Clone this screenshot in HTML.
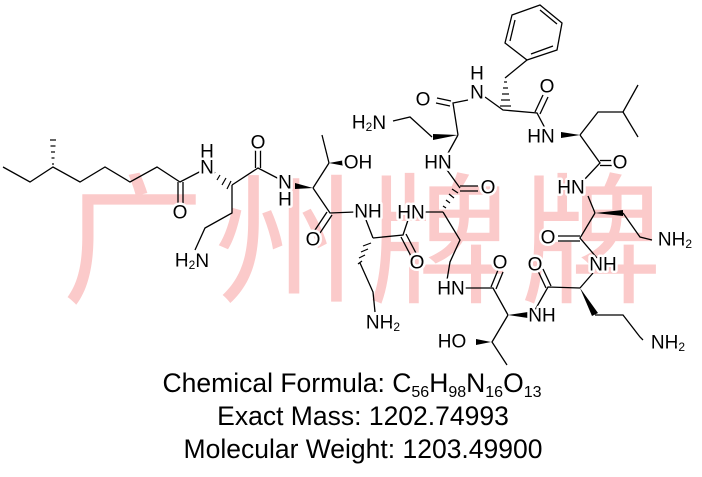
<!DOCTYPE html>
<html><head><meta charset="utf-8"><style>
html,body{margin:0;padding:0;background:#fff;width:702px;height:477px;overflow:hidden}
svg{display:block}
.l{stroke:#000;stroke-width:1.3;fill:none}
.t{font-family:"Liberation Sans",sans-serif;font-size:19px;fill:#000;text-anchor:middle;dominant-baseline:central;stroke:#fff;stroke-width:5px;paint-order:stroke;stroke-linejoin:round}
.s{font-size:12px}
.w{font-family:"Liberation Sans","Noto Sans CJK SC",sans-serif;font-size:142px;fill:#fbcaca}
.f{font-family:"Liberation Sans",sans-serif;font-size:26.5px;fill:#000;text-anchor:middle}
</style></head><body>
<svg width="702" height="477" viewBox="0 0 702 477" xmlns="http://www.w3.org/2000/svg">
<text class="w" x="62" y="292" textLength="600" lengthAdjust="spacing">广州牌牌</text>
<g class="l">
<polyline points="3,167 30,182 53,167 80,182 105,167 130,182 157,167 180,182 207,168"/>
<line x1="178" y1="182" x2="178" y2="204"/><line x1="183" y1="182" x2="183" y2="204"/>
<polyline points="232,185 232,213 205,228 195,250"/>
<polyline points="232,185 258,168 285,182"/>
<line x1="255.5" y1="168" x2="255.5" y2="150"/><line x1="260.5" y1="168" x2="260.5" y2="150"/>
<polyline points="322,135 329,163"/>
<line x1="313" y1="188" x2="329" y2="163"/>
<polyline points="313,188 330,213 355,212"/>
<line x1="327" y1="212" x2="313" y2="233"/><line x1="332" y1="215" x2="318" y2="236"/>
<line x1="366" y1="220" x2="373" y2="238"/>
<polyline points="360,263 373,292 375,312"/>
<polyline points="373,238 403,235 408,220"/>
<line x1="401" y1="237" x2="412" y2="258"/><line x1="406" y1="234" x2="417" y2="255"/>
<line x1="420" y1="212" x2="443" y2="212"/>
<polyline points="443,212 460,240 450,262 447,280"/>
<polyline points="460,188 447,170"/>
<line x1="460" y1="186" x2="478" y2="186"/><line x1="460" y1="191" x2="478" y2="191"/>
<polyline points="456,288 493,288 508,315"/>
<line x1="491" y1="287" x2="498" y2="270"/><line x1="496" y1="289" x2="503" y2="272"/>
<polyline points="508,315 492,342 507,365"/>
<polyline points="535,310 548,287 580,288"/>
<line x1="546" y1="288" x2="538" y2="271"/><line x1="551" y1="286" x2="543" y2="269"/>
<polyline points="595,315 623,315 640,337 643,340"/>
<line x1="580" y1="288" x2="593" y2="273"/>
<polyline points="597,258 580,238 595,213"/>
<line x1="580" y1="236" x2="558" y2="236"/><line x1="580" y1="241" x2="558" y2="241"/>
<polyline points="623,213 640,237 652,240"/>
<polyline points="595,213 588,196"/>
<polyline points="584,180 600,163 580,135"/>
<line x1="600" y1="160.5" x2="612" y2="160.5"/><line x1="600" y1="165.5" x2="612" y2="165.5"/>
<polyline points="580,135 598,112 623,112 638,85"/>
<line x1="623" y1="112" x2="638" y2="137"/>
<polyline points="546,130 537,113 503,110 485,97"/>
<line x1="535" y1="112" x2="543" y2="95"/><line x1="540" y1="114" x2="548" y2="97"/>
<polyline points="505,78 527,60"/>
<polygon points="527,60 557,50 562,23 540,5 512,15 505,43"/>
<line x1="531" y1="54" x2="553" y2="46"/><line x1="557" y1="24" x2="540" y2="10"/><line x1="515" y1="20" x2="510" y2="41"/>
<polyline points="468,100 453,103 458,135"/>
<line x1="451" y1="101" x2="437" y2="98"/><line x1="450" y1="106" x2="436" y2="103"/>
<polyline points="432,137 410,117 393,121"/>
<line x1="458" y1="135" x2="447" y2="155"/>
</g>
<g fill="#000">
<polygon points="313,188 295,183 295,189"/>
<polygon points="329,163 345,160 345,166"/>
<polygon points="508,315 528,312 528,318"/>
<polygon points="461,342 476,339 476,345" transform="rotate(180 476 342)"/>
<polygon points="580,288 592,316 598,313"/>
<polygon points="595,213 623,210 623,216"/>
<polygon points="580,135 561,132 561,138"/>
<polygon points="458,135 433,134 433,140"/>
</g>
<g stroke="#000" stroke-width="1.2">
<line x1="50" y1="140" x2="56" y2="140"/><line x1="50.5" y1="146" x2="55.5" y2="146"/><line x1="51" y1="152" x2="55" y2="152"/><line x1="51.5" y1="158" x2="54.5" y2="158"/><line x1="52" y1="164" x2="54" y2="164"/>
<line x1="215" y1="172" x2="213" y2="175"/><line x1="220" y1="175" x2="217" y2="180"/><line x1="226" y1="178" x2="222" y2="185"/><line x1="231" y1="181" x2="227" y2="189"/>
<line x1="362" y1="261" x2="358" y2="264"/><line x1="365" y1="255" x2="359" y2="258"/><line x1="368" y1="249" x2="361" y2="252"/><line x1="371" y1="243" x2="363" y2="246"/>
<line x1="446" y1="208" x2="443" y2="206"/><line x1="450" y1="203" x2="446" y2="200"/><line x1="454" y1="198" x2="449" y2="194"/><line x1="458" y1="193" x2="452" y2="189"/>
<line x1="504" y1="82" x2="507" y2="82"/><line x1="503" y1="88" x2="508" y2="88"/><line x1="502" y1="94" x2="509" y2="94"/><line x1="501" y1="100" x2="510" y2="100"/><line x1="500" y1="106" x2="511" y2="106"/>
</g>
<text class="t" x="180" y="213">O</text>
<text class="t" x="207" y="168">N</text><text class="t" x="207" y="152">H</text>
<text class="t" x="192" y="261">H<tspan class="s" dy="4">2</tspan><tspan dy="-4">N</tspan></text>
<text class="t" x="258" y="143">O</text>
<text class="t" x="285" y="183">N</text><text class="t" x="285" y="200">H</text>
<text class="t" x="358" y="163">OH</text>
<text class="t" x="313" y="240">O</text>
<text class="t" x="368" y="212">NH</text>
<text class="t" x="383" y="323">NH<tspan class="s" dy="4">2</tspan></text>
<text class="t" x="417" y="263">O</text>
<text class="t" x="411" y="213">HN</text>
<text class="t" x="488" y="188">O</text>
<text class="t" x="438" y="163">HN</text>
<text class="t" x="451" y="289">HN</text>
<text class="t" x="500" y="263">O</text>
<text class="t" x="452" y="342">HO</text>
<text class="t" x="542" y="316">NH</text>
<text class="t" x="535" y="265">O</text>
<text class="t" x="603" y="265">NH</text>
<text class="t" x="668" y="343">NH<tspan class="s" dy="4">2</tspan></text>
<text class="t" x="548" y="238">O</text>
<text class="t" x="675" y="240">NH<tspan class="s" dy="4">2</tspan></text>
<text class="t" x="571" y="188">HN</text>
<text class="t" x="620" y="163">O</text>
<text class="t" x="541" y="137">HN</text>
<text class="t" x="547" y="87">O</text>
<text class="t" x="477" y="93">N</text><text class="t" x="477" y="74">H</text>
<text class="t" x="423" y="100">O</text>
<text class="t" x="369" y="123">H<tspan class="s" dy="4">2</tspan><tspan dy="-4">N</tspan></text>
<text class="f" x="352" y="392">Chemical Formula: C<tspan font-size="16" dy="5">56</tspan><tspan dy="-5">H</tspan><tspan font-size="16" dy="5">98</tspan><tspan dy="-5">N</tspan><tspan font-size="16" dy="5">16</tspan><tspan dy="-5">O</tspan><tspan font-size="16" dy="5">13</tspan></text>
<text class="f" x="363" y="425">Exact Mass: 1202.74993</text>
<text class="f" x="363" y="458">Molecular Weight: 1203.49900</text>
</svg>
</body></html>
